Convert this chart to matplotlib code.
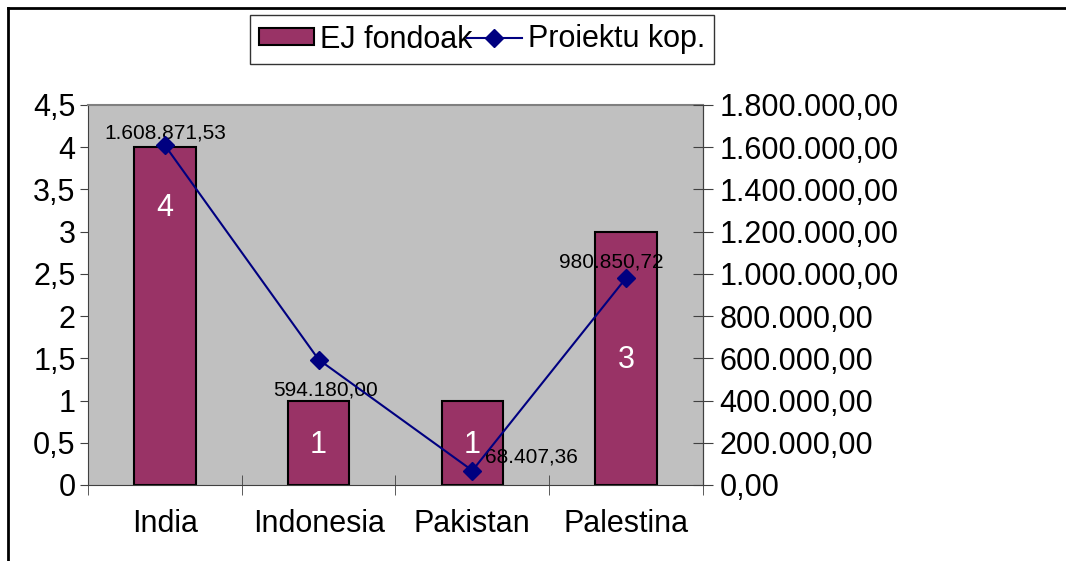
import matplotlib
matplotlib.use("Agg")
from matplotlib import pyplot as plt
from matplotlib.lines import Line2D
from matplotlib.patches import Patch
import numpy as np

plt.rcParams['font.family'] = ['Liberation Sans', 'DejaVu Sans']

countries = ['India', 'Indonesia', 'Pakistan', 'Palestina']
fondoak = [4, 1, 1, 3]
proiektu = [1608871.53, 594180.00, 68407.36, 980850.72]
proiektu_labels = ['1.608.871,53', '594.180,00', '68.407,36', '980.850,72']
left_ticks = [0, 0.5, 1, 1.5, 2, 2.5, 3, 3.5, 4, 4.5]
left_labels = ['0', '0,5', '1', '1,5', '2', '2,5', '3', '3,5', '4', '4,5']
right_ticks = [0, 200000, 400000, 600000, 800000, 1000000, 1200000, 1400000, 1600000, 1800000]
right_labels = ['0,00', '200.000,00', '400.000,00', '600.000,00', '800.000,00',
                '1.000.000,00', '1.200.000,00', '1.400.000,00', '1.600.000,00', '1.800.000,00']

bar_color = '#993366'
line_color = '#000080'
fs = 22

fig = plt.figure(figsize=(10.66, 5.61), dpi=100)
ax = fig.add_axes([88 / 1066, 1 - 485 / 561, 615 / 1066, 380 / 561])
ax.set_facecolor('#C0C0C0')

x = np.arange(len(countries))
ax.bar(x, fondoak, width=0.4, color=bar_color, edgecolor='black', linewidth=1.5, zorder=2)
ax.set_xlim(-0.5, 3.5)
ax.set_ylim(0, 4.5)

# white labels inside bars
bar_label_y = [3.28, 0.47, 0.47, 1.48]
for xi, v, ly in zip(x, fondoak, bar_label_y):
    ax.text(xi, ly, str(v), color='white', fontsize=fs, ha='center', va='center', zorder=3)

ax.set_yticks(left_ticks)
ax.set_yticklabels(left_labels, fontsize=fs)
ax.tick_params(axis='y', direction='out', length=6, color='#404040', pad=3)

ax.set_xticks(x)
ax.set_xticklabels(countries, fontsize=fs)
ax.set_xticks(np.arange(-0.5, 4.0, 1.0), minor=True)
ax.tick_params(axis='x', which='major', length=0, pad=17)
ax.tick_params(axis='x', which='minor', direction='inout', length=14, color='#404040')

for s in ['left', 'bottom', 'right']:
    ax.spines[s].set_color('#404040')
ax.spines['top'].set_color('#808080')
ax.spines['top'].set_linewidth(1.5)

ax2 = ax.twinx()
ax2.plot(x, proiektu, color=line_color, marker='D', markersize=9, linewidth=1.5, zorder=4)
ax2.set_ylim(0, 1800000)
ax2.set_yticks(right_ticks)
ax2.set_yticklabels(right_labels, fontsize=fs)
ax2.tick_params(axis='y', direction='inout', length=14, color='#404040', pad=5)
ax2.spines['right'].set_color('#404040')
ax2.spines['top'].set_visible(False)
ax2.spines['left'].set_visible(False)
ax2.spines['bottom'].set_visible(False)

label_offsets = [(0, 12), (7, -30), (59, 14), (-15, 16)]
for xi, v, lab, off in zip(x, proiektu, proiektu_labels, label_offsets):
    ax2.annotate(lab, (xi, v), xytext=off, textcoords='offset pixels',
                 ha='center', va='center', fontsize=15, color='black')

handles = [Patch(facecolor=bar_color, edgecolor='black', linewidth=1.5),
           Line2D([], [], color=line_color, marker='D', markersize=9, linewidth=1.5)]
leg = fig.legend(handles, ['EJ fondoak', 'Proiektu kop.'], loc='center',
                 bbox_to_anchor=(482 / 1066, 1 - 39.5 / 561), ncol=2, fontsize=fs,
                 frameon=True, fancybox=False, handlelength=1.8, handletextpad=0.2,
                 columnspacing=-0.2, borderpad=0.3, handleheight=0.5)
leg.get_frame().set_edgecolor('black')
leg.get_frame().set_linewidth(1)

# chart border (top and left visible)
fig.add_artist(Line2D([8 / 1066, 1.0], [1 - 8 / 561, 1 - 8 / 561], color='black', linewidth=2,
                      transform=fig.transFigure))
fig.add_artist(Line2D([8 / 1066, 8 / 1066], [0, 1 - 8 / 561], color='black', linewidth=2,
                      transform=fig.transFigure))

fig.savefig('out.png', dpi=100)
